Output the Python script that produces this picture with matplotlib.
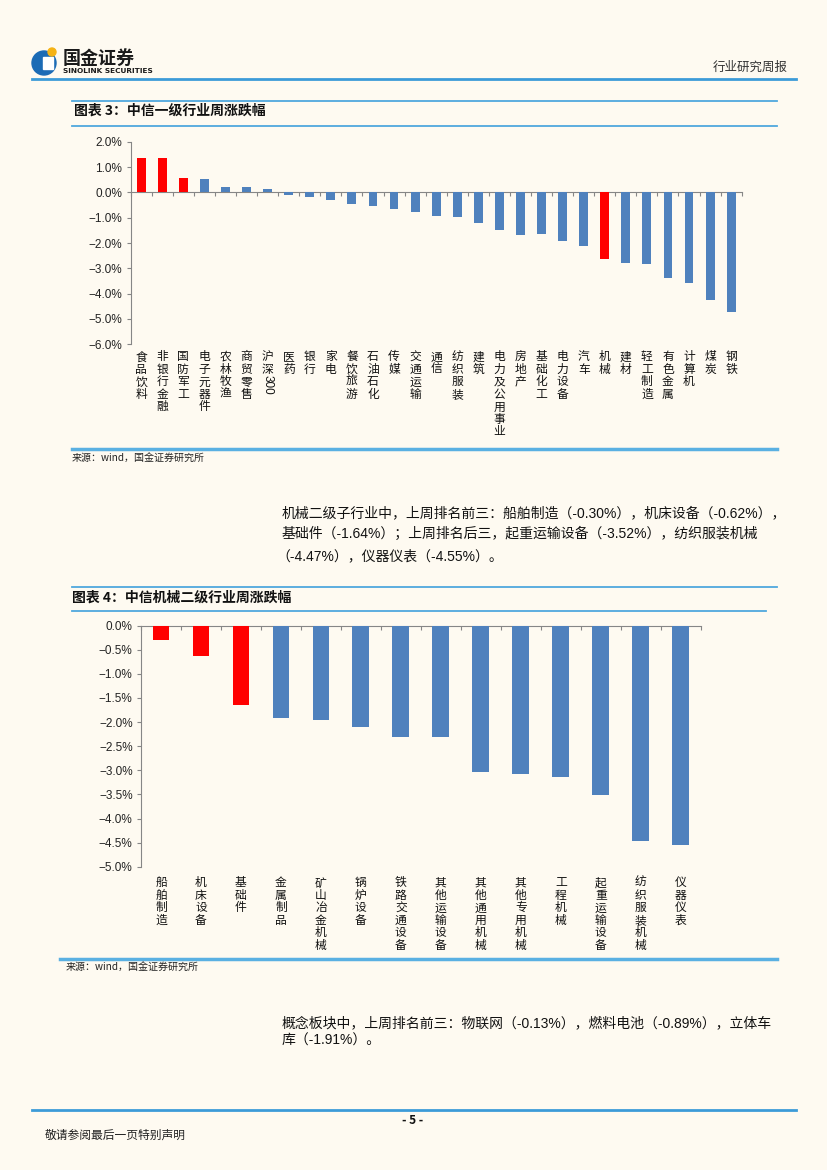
import matplotlib
matplotlib.use('Agg')
import matplotlib.pyplot as plt
import matplotlib.transforms as mtransforms
from matplotlib.lines import Line2D
from matplotlib.patches import Circle, Rectangle
from matplotlib.ticker import FuncFormatter, FixedLocator

plt.rcParams['font.family'] = ['Noto Sans CJK SC', 'DejaVu Sans']

# --- data -------------------------------------------------------------
industries = ['食品饮料', '非银行金融', '国防军工', '电子元器件', '农林牧渔', '商贸零售',
              '沪深300', '医药', '银行', '家电', '餐饮旅游', '石油石化', '传媒', '交通运输',
              '通信', '纺织服装', '建筑', '电力及公用事业', '房地产', '基础化工', '电力设备',
              '汽车', '机械', '建材', '轻工制造', '有色金属', '计算机', '煤炭', '钢铁']
industry_chg = [1.34, 1.34, 0.55, 0.51, 0.20, 0.20, 0.14, -0.10, -0.20, -0.30, -0.47, -0.53,
                -0.65, -0.79, -0.92, -0.96, -1.21, -1.50, -1.67, -1.66, -1.91, -2.12, -2.65,
                -2.77, -2.82, -3.40, -3.56, -4.26, -4.72]
industry_red = ['食品饮料', '非银行金融', '国防军工', '机械']

sub_names = ['船舶制造', '机床设备', '基础件', '金属制品', '矿山冶金机械', '锅炉设备',
             '铁路交通设备', '其他运输设备', '其他通用机械', '其他专用机械', '工程机械',
             '起重运输设备', '纺织服装机械', '仪器仪表']
sub_chg = [-0.30, -0.62, -1.64, -1.91, -1.96, -2.10, -2.30, -2.30, -3.04, -3.08, -3.13,
           -3.52, -4.47, -4.55]
sub_red = ['船舶制造', '机床设备', '基础件']

RED = '#FF0000'
BLUE = '#4F81BD'
BG = '#FEFAF1'
LINE_BLUE = '#4FA8DE'
BODY_FONT = ['Liberation Sans', 'Noto Sans CJK SC']
W, H = 827, 1170

fig = plt.figure(figsize=(W / 100, H / 100), dpi=100, facecolor=BG)


def fx(x):
    return x / W


def fy(y):
    return 1 - y / H


def hline(y, x0, x1, lw=1.5, color=LINE_BLUE):
    fig.add_artist(Line2D([fx(x0), fx(x1)], [fy(y), fy(y)], transform=fig.transFigure,
                          color=color, lw=lw))


def ftext(x, y, s, **kw):
    fig.text(fx(x), fy(y), s, **kw)


def pct(v, pos):
    return ('%.1f%%' % v).replace('-', '\u2212')


def bar_chart(rect, names, values, reds, ylim, step, label_top):
    ax = fig.add_axes(rect)
    ax.set_facecolor(BG)
    xs = list(range(len(names)))
    colors = [RED if n in reds else BLUE for n in names]
    ax.bar(xs, values, width=0.42, color=colors, zorder=3)
    ax.set_xlim(-0.5, len(names) - 0.5)
    ax.set_ylim(*ylim)
    n = int(round((ylim[1] - ylim[0]) / step))
    ax.yaxis.set_major_locator(FixedLocator([ylim[0] + i * step for i in range(n + 1)]))
    ax.yaxis.set_major_formatter(FuncFormatter(pct))
    for lab in ax.get_yticklabels():
        lab.set_family('Liberation Sans')
    ax.tick_params(axis='y', length=3, width=0.8, color='#868686', labelsize=8.5,
                   labelcolor='#222222', pad=3)
    for s in ['top', 'right']:
        ax.spines[s].set_visible(False)
    ax.spines['left'].set_color('#868686')
    ax.spines['bottom'].set_color('#868686')
    ax.spines['bottom'].set_position(('data', 0))
    ax.set_xticks(xs)
    ax.tick_params(axis='x', which='major', length=0, labelbottom=False)
    ax.set_xticks([i - 0.5 for i in range(len(names) + 1)], minor=True)
    ax.tick_params(axis='x', which='minor', length=3, width=0.8, color='#868686')
    trans = mtransforms.blended_transform_factory(ax.transData, ax.transAxes)
    for i, name in enumerate(names):
        if name.endswith('300'):
            # digits run sideways in the original
            ax.text(i, label_top, '沪\n深', transform=trans, ha='center', va='top',
                    fontsize=8.5, linespacing=0.95, color='#111111')
            ax.text(i, label_top - 0.17, '300', transform=trans, ha='center', va='center',
                    rotation=270, fontsize=8.5, color='#111111', family='Liberation Sans')
        else:
            ax.text(i, label_top, '\n'.join(name), transform=trans, ha='center', va='top',
                    fontsize=8.5, linespacing=0.95, color='#111111')
    return ax


# --- header -----------------------------------------------------------
logo = fig.add_axes([fx(30), fy(80), fx(30), 35 / H])
logo.set_xlim(30, 60)
logo.set_ylim(80, 45)
logo.axis('off')
logo.add_patch(Circle((44, 63), 12, color='#1B6BB5'))
logo.add_patch(Rectangle((43, 57), 10, 12, color='white'))
logo.add_patch(Circle((52, 52), 4, color='#F5B316'))
ftext(63, 58, '国金证券', fontsize=13, fontweight='bold', color='#1A1A1A', va='center')
ftext(63, 71, 'SINOLINK SECURITIES', fontsize=5.3, fontweight='bold', color='#1A1A1A',
      va='center', family='DejaVu Sans')
ftext(788, 67, '行业研究周报', fontsize=9, color='#333333', ha='right', va='center')
hline(79, 32, 796, lw=2.0, color='#3C9BD8')

# --- chart 3 ----------------------------------------------------------
hline(100.5, 72, 777, lw=1.3)
ftext(74, 111, '图表 3：中信一级行业周涨跌幅', fontsize=10, fontweight='bold',
      color='#111111', va='center')
hline(125.5, 72, 777, lw=1.3)

bar_chart([fx(130.7), fy(344.3), fx(741.7) - fx(130.7), (344.3 - 141.7) / H],
          industries, industry_chg, industry_red, (-6, 2), 1.0, -0.03)

hline(449, 72, 777, lw=2.5, color='#5AB0E2')
ftext(72, 459, '来源：wind，国金证券研究所', fontsize=7.2, color='#222222', va='center')

# --- paragraph 1 ------------------------------------------------------
ftext(282, 513, '机械二级子行业中，上周排名前三：船舶制造（-0.30%），机床设备（-0.62%），',
      fontsize=10, color='#111111', va='center', family=BODY_FONT)
ftext(282, 534, '基础件（-1.64%）；上周排名后三，起重运输设备（-3.52%），纺织服装机械',
      fontsize=10, color='#111111', va='center', family=BODY_FONT)
ftext(276, 556, '（-4.47%），仪器仪表（-4.55%）。', fontsize=10, color='#111111',
      va='center', family=BODY_FONT)

# --- chart 4 ----------------------------------------------------------
hline(587, 72, 777, lw=1.3)
ftext(72, 598, '图表 4：中信机械二级行业周涨跌幅', fontsize=10, fontweight='bold',
      color='#111111', va='center')
hline(610.5, 72, 766, lw=1.3)

bar_chart([fx(141), fy(866.7), fx(700.7) - fx(141), (866.7 - 625.7) / H],
          sub_names, sub_chg, sub_red, (-5, 0), 0.5, -0.04)

hline(959, 60, 777, lw=2.5, color='#5AB0E2')
ftext(66, 968, '来源：wind，国金证券研究所', fontsize=7.2, color='#222222', va='center')

# --- paragraph 2 ------------------------------------------------------
ftext(282, 1023, '概念板块中，上周排名前三：物联网（-0.13%），燃料电池（-0.89%），立体车',
      fontsize=10, color='#111111', va='center', family=BODY_FONT)
ftext(282, 1041, '库（-1.91%）。', fontsize=10, color='#111111', va='center',
      family=BODY_FONT)

# --- footer -----------------------------------------------------------
hline(1110, 32, 796, lw=2.0, color='#3C9BD8')
ftext(413, 1120, '- 5 -', fontsize=8.5, fontweight='bold', color='#111111', ha='center',
      va='center')
ftext(45, 1135, '敬请参阅最后一页特别声明', fontsize=8.5, color='#222222', va='center')

fig.savefig('out.png', dpi=100, facecolor=BG)
